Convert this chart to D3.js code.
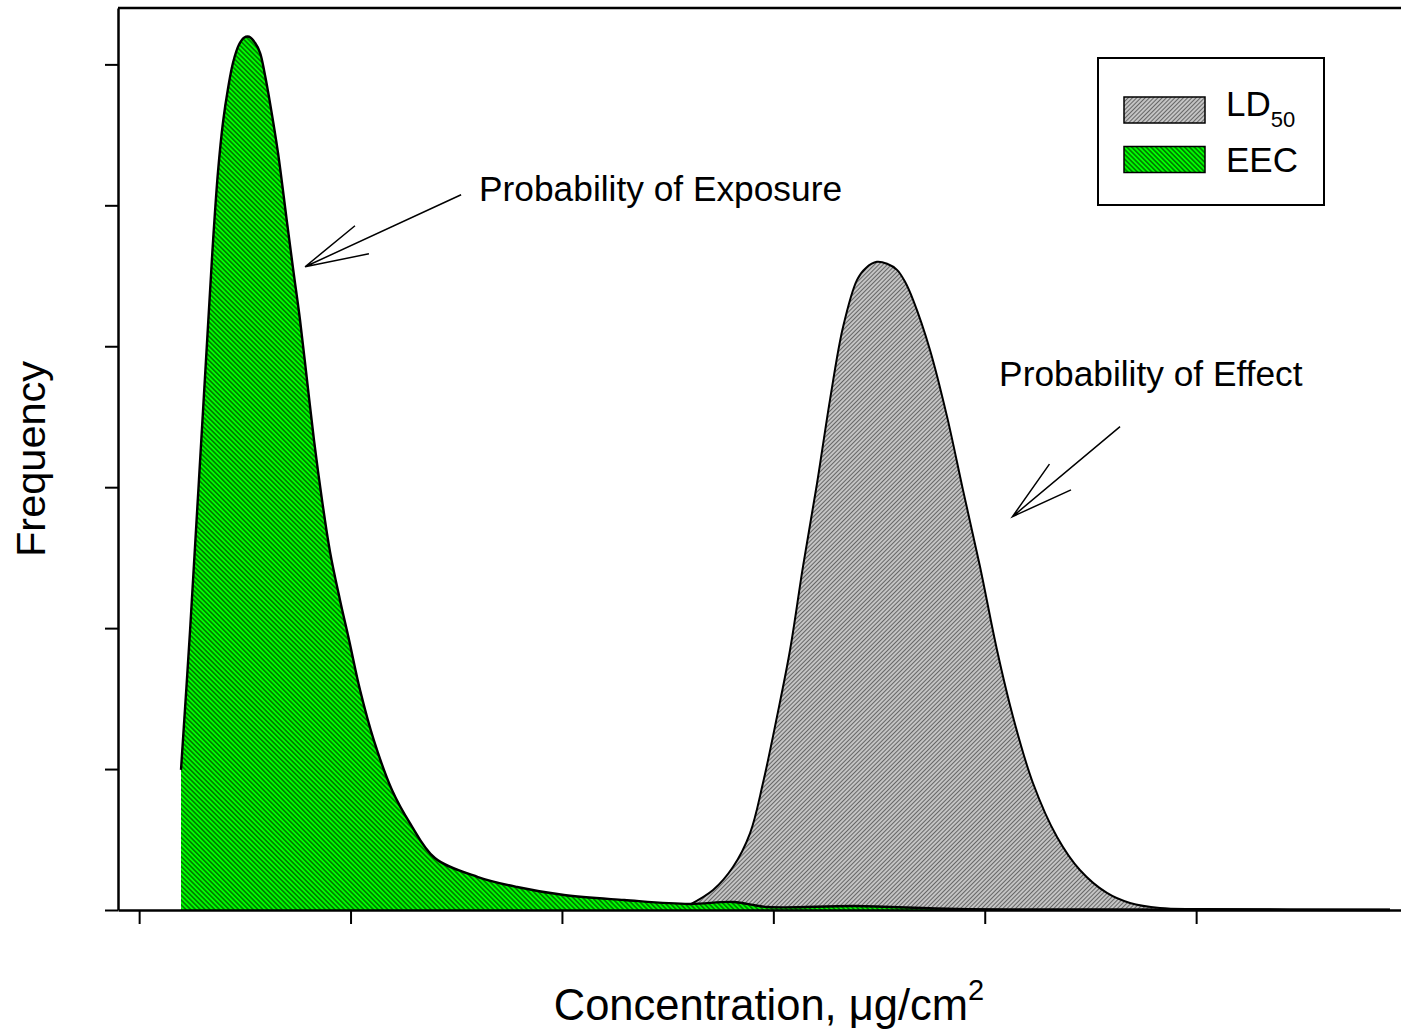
<!DOCTYPE html>
<html>
<head>
<meta charset="utf-8">
<script src="https://cdn.jsdelivr.net/npm/d3@7"></script>
<style>
  body { margin: 0; background: #fff; }
  text { font-family: "Liberation Sans", Arial, sans-serif; fill: #000; }
</style>
</head>
<body>
<div id="chart"></div>
<script>
// EEC curve (probability of exposure), x in axis units, y in frequency units
const eecX = [0.198, 0.241, 0.283, 0.326, 0.350, 0.373, 0.397, 0.421, 0.444, 0.472, 0.496, 0.520,
  0.548, 0.572, 0.595, 0.619, 0.657, 0.698, 0.729, 0.761, 0.794, 0.827, 0.865, 0.903, 0.950,
  0.993, 1.045, 1.110, 1.196, 1.281, 1.399, 1.603, 1.788, 2.010, 2.294, 2.602, 2.810, 2.975,
  3.387, 3.869, 4.545, 5.917];
const eecY = [0.994, 1.987, 3.052, 4.152, 4.755, 5.238, 5.593, 5.834, 6.012, 6.139, 6.189, 6.196,
  6.153, 6.082, 5.926, 5.727, 5.372, 4.897, 4.542, 4.187, 3.761, 3.335, 2.910, 2.541, 2.200,
  1.916, 1.561, 1.206, 0.852, 0.617, 0.369, 0.234, 0.163, 0.106, 0.071, 0.043, 0.057, 0.021,
  0.028, 0.007, 0.004, 0];

// LD50 curve (probability of effect)
const ldX = [2.601, 2.715, 2.809, 2.890, 2.951, 3.017, 3.079, 3.140, 3.207, 3.268, 3.330, 3.396,
  3.438, 3.490, 3.538, 3.585, 3.623, 3.661, 3.741, 3.822, 3.897, 3.978, 4.058, 4.134, 4.228,
  4.342, 4.450, 4.578, 4.687, 4.829, 5.018, 5.917];
const ldY = [0.035, 0.142, 0.305, 0.546, 0.901, 1.370, 1.845, 2.434, 3.030, 3.620, 4.138, 4.471,
  4.556, 4.599, 4.585, 4.542, 4.457, 4.329, 3.974, 3.499, 2.981, 2.434, 1.845, 1.370, 0.901,
  0.518, 0.284, 0.121, 0.050, 0.014, 0.007, 0.004];

const xTicks = [0, 1, 2, 3, 4, 5];
const yTicks = [0, 1, 2, 3, 4, 5, 6];
const seriesNames = ['LD', 'EEC'];

const width = 1401;
const height = 1029;
const margin = { top: 8, bottom: 119, left: 118 };

const svg = d3.select('#chart')
  .append('svg')
  .attr('width', width)
  .attr('height', height);

const x = d3.scaleLinear()
  .domain([-0.1, 6.0])
  .range([margin.left, margin.left + 6.1 * 211.4]);

const y = d3.scaleLinear()
  .domain([0, 6.4])
  .range([height - margin.bottom, margin.top]);

// hatch patterns
const defs = svg.append('defs');
function hatch(id, fill, stroke, size, sw, angle) {
  const p = defs.append('pattern')
    .attr('id', id)
    .attr('patternUnits', 'userSpaceOnUse')
    .attr('width', size)
    .attr('height', size)
    .attr('patternTransform', `rotate(${angle})`);
  p.append('rect').attr('width', size).attr('height', size).attr('fill', fill);
  p.append('line')
    .attr('x1', size / 2).attr('y1', 0)
    .attr('x2', size / 2).attr('y2', size)
    .attr('stroke', stroke)
    .attr('stroke-width', sw);
}
hatch('hatch-green', '#00ff00', '#000', 3.4, 0.85, -45);
hatch('hatch-gray', '#c4c4c4', '#333', 3, 0.65, 45);

const ldData = ldX.map((v, i) => [v, ldY[i]]);
const eecData = eecX.map((v, i) => [v, eecY[i]]);

const curve = d3.curveCatmullRom.alpha(0.5);

const area = d3.area()
  .x(d => x(d[0]))
  .y0(y(0))
  .y1(d => y(Math.max(0, d[1])))
  .curve(curve);

const line = d3.line()
  .x(d => x(d[0]))
  .y(d => y(d[1]))
  .curve(curve);

// LD50 first, EEC on top
svg.append('path').datum(ldData)
  .attr('d', area)
  .attr('fill', 'url(#hatch-gray)');
svg.append('path').datum(ldData)
  .attr('d', line)
  .attr('fill', 'none')
  .attr('stroke', '#000')
  .attr('stroke-width', 2);

svg.append('path').datum(eecData)
  .attr('d', area)
  .attr('fill', 'url(#hatch-green)');
svg.append('path').datum(eecData)
  .attr('d', line)
  .attr('fill', 'none')
  .attr('stroke', '#000')
  .attr('stroke-width', 2.4);

// axes
function xAxis(g) {
  g.attr('transform', `translate(0,${y(0)})`)
    .call(d3.axisBottom(x).tickValues(xTicks).tickSize(14).tickSizeOuter(0).tickFormat(''));
  g.select('.domain').attr('stroke-width', 2.5);
  g.selectAll('.tick line').attr('stroke-width', 2);
}
function yAxis(g) {
  g.attr('transform', `translate(${margin.left},0)`)
    .call(d3.axisLeft(y).tickValues(yTicks).tickSize(13).tickSizeOuter(0).tickFormat(''));
  g.select('.domain').attr('stroke-width', 2.5);
  g.selectAll('.tick line').attr('stroke-width', 2);
}
svg.append('g').call(xAxis);
svg.append('g').call(yAxis);

// top frame line
svg.append('line')
  .attr('x1', margin.left).attr('x2', width)
  .attr('y1', y(6.4)).attr('y2', y(6.4))
  .attr('stroke', '#000')
  .attr('stroke-width', 2.5);

// axis titles
const xt = svg.append('text')
  .attr('x', 769)
  .attr('y', 1020)
  .attr('text-anchor', 'middle')
  .attr('font-size', 43.5);
xt.append('tspan').text('Concentration, \u03bcg/cm');
xt.append('tspan').attr('font-size', 29).attr('dy', -20).text('2');

svg.append('text')
  .attr('transform', 'translate(45,459) rotate(-90)')
  .attr('text-anchor', 'middle')
  .attr('font-size', 41.5)
  .text('Frequency');

// annotations
const notes = [
  { text: 'Probability of Exposure', at: [1.608, 5.032],
    tail: [1.523, 5.075], tip: [0.785, 4.564], barbs: [[1.021, 4.855], [1.087, 4.656]] },
  { text: 'Probability of Effect', at: [4.068, 3.719],
    tail: [4.640, 3.430], tip: [4.131, 2.791], barbs: [[4.306, 3.164], [4.408, 2.981]] }
];
notes.forEach(n => {
  svg.append('text')
    .attr('x', x(n.at[0]))
    .attr('y', y(n.at[1]))
    .attr('font-size', 35.3)
    .text(n.text);
  const pts = [n.tail, n.tip, n.barbs[0], n.tip, n.barbs[1]];
  svg.append('path')
    .attr('d', d3.line().x(d => x(d[0])).y(d => y(d[1]))(pts))
    .attr('fill', 'none')
    .attr('stroke', '#000')
    .attr('stroke-width', 1.5);
});

// legend
const legend = svg.append('g').attr('transform', 'translate(1098,58)');
legend.append('rect')
  .attr('width', 226).attr('height', 147)
  .attr('fill', '#fff')
  .attr('stroke', '#000')
  .attr('stroke-width', 2);
const fills = ['url(#hatch-gray)', 'url(#hatch-green)'];
seriesNames.forEach((name, i) => {
  legend.append('rect')
    .attr('x', 26).attr('y', 39 + i * 49.5)
    .attr('width', 81).attr('height', 26)
    .attr('fill', fills[i])
    .attr('stroke', '#000')
    .attr('stroke-width', 1.5);
  const t = legend.append('text')
    .attr('x', 128).attr('y', 58 + i * 55.5)
    .attr('font-size', 35)
    .text(name);
  if (i === 0) {
    t.append('tspan').attr('font-size', 22).attr('dy', 11).text('50');
  }
});
</script>
</body>
</html>
